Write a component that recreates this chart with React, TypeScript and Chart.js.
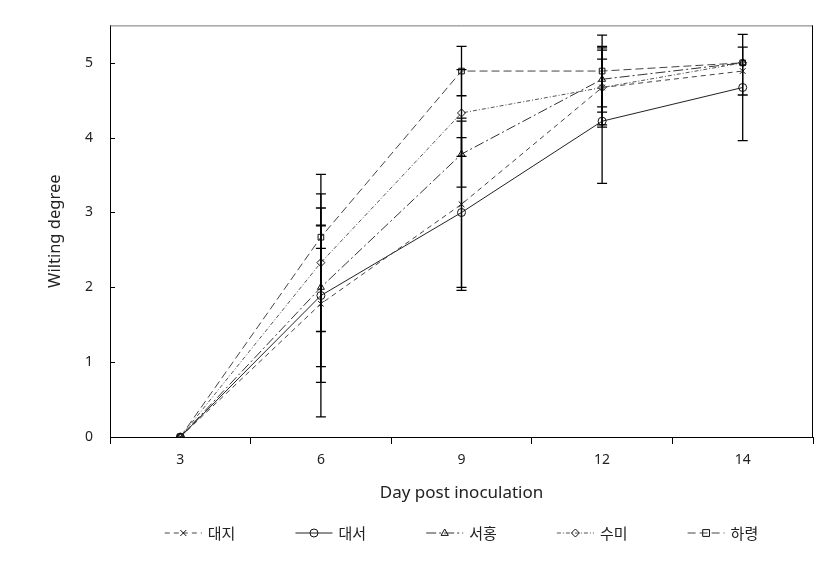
import React, { useEffect, useRef } from 'react';
import { Chart, registerables } from 'chart.js';

Chart.register(...registerables);

// ---- data ----
const days = ['3', '6', '9', '12', '14'];
const seriesNames = ['대지', '대서', '서홍', '수미', '하령'];

const daeji = [0, 1.78, 3.11, 4.67, 4.89];
const daeseo = [0, 1.89, 3.0, 4.22, 4.67];
const seohong = [0, 2.0, 3.78, 4.78, 5.0];
const sumi = [0, 2.33, 4.33, 4.67, 5.0];
const haryeong = [0, 2.67, 4.89, 4.89, 5.0];

const daejiErr = [0, 1.05, 1.15, 0.5, 0.32];
const daeseoErr = [0, 1.62, 1.0, 0.83, 0.71];
const seohongErr = [0, 1.06, 0.44, 0.44, 0];
const sumiErr = [0, 0.92, 0.58, 0.53, 0];
const haryeongErr = [0, 0.15, 0.33, 0.48, 0];

const yTicks = [0, 1, 2, 3, 4, 5];

const FONT = '"Noto Sans", "Noto Sans CJK KR", sans-serif';
const KFONT = '"Noto Sans CJK KR", "Noto Sans", sans-serif';

function drawMarker(ctx: CanvasRenderingContext2D, style: string, x: number, y: number, r: number) {
  ctx.beginPath();
  if (style === 'circle') {
    ctx.arc(x, y, r, 0, Math.PI * 2);
  } else if (style === 'rect') {
    ctx.rect(x - r * 0.85, y - r * 0.85, r * 1.7, r * 1.7);
  } else if (style === 'rectRot') {
    ctx.moveTo(x, y - r);
    ctx.lineTo(x + r, y);
    ctx.lineTo(x, y + r);
    ctx.lineTo(x - r, y);
    ctx.closePath();
  } else if (style === 'triangle') {
    ctx.moveTo(x, y - r);
    ctx.lineTo(x + r * 0.9, y + r * 0.6);
    ctx.lineTo(x - r * 0.9, y + r * 0.6);
    ctx.closePath();
  } else if (style === 'crossRot') {
    const d = r * 0.75;
    ctx.moveTo(x - d, y - d);
    ctx.lineTo(x + d, y + d);
    ctx.moveTo(x + d, y - d);
    ctx.lineTo(x - d, y + d);
  }
  ctx.stroke();
}

const errorBarPlugin = {
  id: 'errorBars',
  afterDatasetsDraw(chart: any) {
    const { ctx } = chart;
    const yScale = chart.scales.y;
    chart.data.datasets.forEach((ds: any, i: number) => {
      const meta = chart.getDatasetMeta(i);
      meta.data.forEach((pt: any, j: number) => {
        const e = ds.errors[j];
        if (!e) return;
        const v = ds.data[j];
        const yt = yScale.getPixelForValue(v + e);
        const yb = yScale.getPixelForValue(v - e);
        ctx.save();
        ctx.strokeStyle = '#000';
        ctx.lineWidth = 1.3;
        ctx.setLineDash([]);
        ctx.beginPath();
        ctx.moveTo(pt.x, yt);
        ctx.lineTo(pt.x, yb);
        ctx.moveTo(pt.x - 5, yt);
        ctx.lineTo(pt.x + 5, yt);
        ctx.moveTo(pt.x - 5, yb);
        ctx.lineTo(pt.x + 5, yb);
        ctx.stroke();
        ctx.restore();
      });
    });
  },
};

const framePlugin = {
  id: 'frame',
  afterDraw(chart: any) {
    const { ctx, chartArea } = chart;
    const yScale = chart.scales.y;
    ctx.save();
    ctx.setLineDash([]);
    ctx.lineWidth = 1;
    ctx.strokeStyle = '#777';
    ctx.beginPath();
    ctx.moveTo(chartArea.left, chartArea.top + 0.5);
    ctx.lineTo(chartArea.right, chartArea.top + 0.5);
    ctx.stroke();
    ctx.strokeStyle = '#000';
    ctx.beginPath();
    ctx.moveTo(chartArea.right - 0.5, chartArea.top);
    ctx.lineTo(chartArea.right - 0.5, chartArea.bottom);
    ctx.stroke();
    // inside y tick marks
    ctx.beginPath();
    yScale.ticks.forEach((t: any) => {
      if (!Number.isInteger(t.value)) return;
      const py = Math.round(yScale.getPixelForValue(t.value)) + 0.5;
      ctx.moveTo(chartArea.left, py);
      ctx.lineTo(chartArea.left + 5, py);
    });
    ctx.stroke();
    ctx.restore();
  },
};

const legendPlugin = {
  id: 'customLegend',
  afterDraw(chart: any) {
    const { ctx, chartArea } = chart;
    const cy = 533;
    const sample = 37;
    const gap = 6;
    const step = 130.7;
    ctx.save();
    ctx.font = '15px ' + KFONT;
    const textW = ctx.measureText(seriesNames[0]).width;
    const total = step * (chart.data.datasets.length - 1) + sample + gap + textW;
    const center = (chartArea.left + chartArea.right) / 2;
    const start = center - total / 2;
    chart.data.datasets.forEach((ds: any, i: number) => {
      const x0 = start + i * step;
      ctx.strokeStyle = ds.borderColor;
      ctx.lineWidth = ds.borderWidth;
      ctx.setLineDash(ds.borderDash || []);
      ctx.beginPath();
      ctx.moveTo(x0, cy);
      ctx.lineTo(x0 + sample, cy);
      ctx.stroke();
      ctx.setLineDash([]);
      ctx.strokeStyle = ds.pointBorderColor;
      ctx.lineWidth = 1;
      drawMarker(ctx, ds.pointStyle, x0 + sample / 2, cy, ds.pointRadius);
      ctx.fillStyle = '#222';
      ctx.textAlign = 'left';
      ctx.textBaseline = 'middle';
      ctx.fillText(ds.label, x0 + sample + gap, cy);
    });
    ctx.restore();
  },
};

export default function App() {
  const canvasRef = useRef<HTMLCanvasElement | null>(null);

  useEffect(() => {
    if (!canvasRef.current) return;
    const mk = (label: string, data: number[], errors: number[], dash: number[], style: string, color: string) => ({
      label,
      data,
      errors,
      borderColor: color,
      borderWidth: 1,
      borderDash: dash,
      backgroundColor: 'transparent',
      pointStyle: style,
      pointRadius: 4,
      pointBorderColor: '#111',
      pointBorderWidth: 1,
      pointBackgroundColor: 'transparent',
      tension: 0,
      fill: false,
    });
    const chart = new Chart(canvasRef.current, {
      type: 'line',
      data: {
        labels: days,
        datasets: [
          mk(seriesNames[0], daeji, daejiErr, [5, 4], 'crossRot', '#444'),
          mk(seriesNames[1], daeseo, daeseoErr, [], 'circle', '#222'),
          mk(seriesNames[2], seohong, seohongErr, [10, 3, 2, 3], 'triangle', '#333'),
          mk(seriesNames[3], sumi, sumiErr, [4, 2, 1, 2], 'rectRot', '#555'),
          mk(seriesNames[4], haryeong, haryeongErr, [8, 4], 'rect', '#444'),
        ] as any,
      },
      options: {
        animation: false,
        responsive: true,
        maintainAspectRatio: false,
        layout: { padding: { left: 0, right: 24, top: 24, bottom: 60 } },
        plugins: {
          legend: { display: false },
          tooltip: { enabled: false },
        },
        scales: {
          x: {
            type: 'category',
            offset: true,
            grid: {
              display: true,
              offset: true,
              drawOnChartArea: false,
              drawTicks: true,
              tickLength: 7,
              color: '#000',
            },
            border: { display: true, color: '#000', width: 1 },
            ticks: {
              color: '#222',
              font: { family: FONT, size: 14 },
              padding: 8,
            },
            title: {
              display: true,
              text: 'Day post inoculation',
              color: '#222',
              font: { family: FONT, size: 17 },
              padding: { top: 0, bottom: 5 },
            },
            afterFit: (s: any) => {
              s.height = 71;
            },
          },
          y: {
            type: 'linear',
            min: 0,
            max: 5.5,
            grid: {
              display: true,
              drawOnChartArea: false,
              drawTicks: false,
            },
            border: { display: true, color: '#000', width: 1 },
            ticks: {
              stepSize: 1,
              includeBounds: false,
              color: '#222',
              font: { family: FONT, size: 14 },
              padding: 17,
              callback: (v: any) => (yTicks.includes(Number(v)) ? String(v) : ''),
            },
            title: {
              display: true,
              text: 'Wilting degree',
              color: '#222',
              font: { family: FONT, size: 16.5 },
              padding: { top: 45, bottom: 0 },
            },
            afterFit: (s: any) => {
              s.width = 110;
            },
          },
        },
      },
      plugins: [errorBarPlugin, framePlugin, legendPlugin],
    });
    return () => chart.destroy();
  }, []);

  return (
    <div style={{ position: 'absolute', left: 0, top: 0, width: 837, height: 568, background: '#fff' }}>
      <canvas ref={canvasRef} />
    </div>
  );
}
